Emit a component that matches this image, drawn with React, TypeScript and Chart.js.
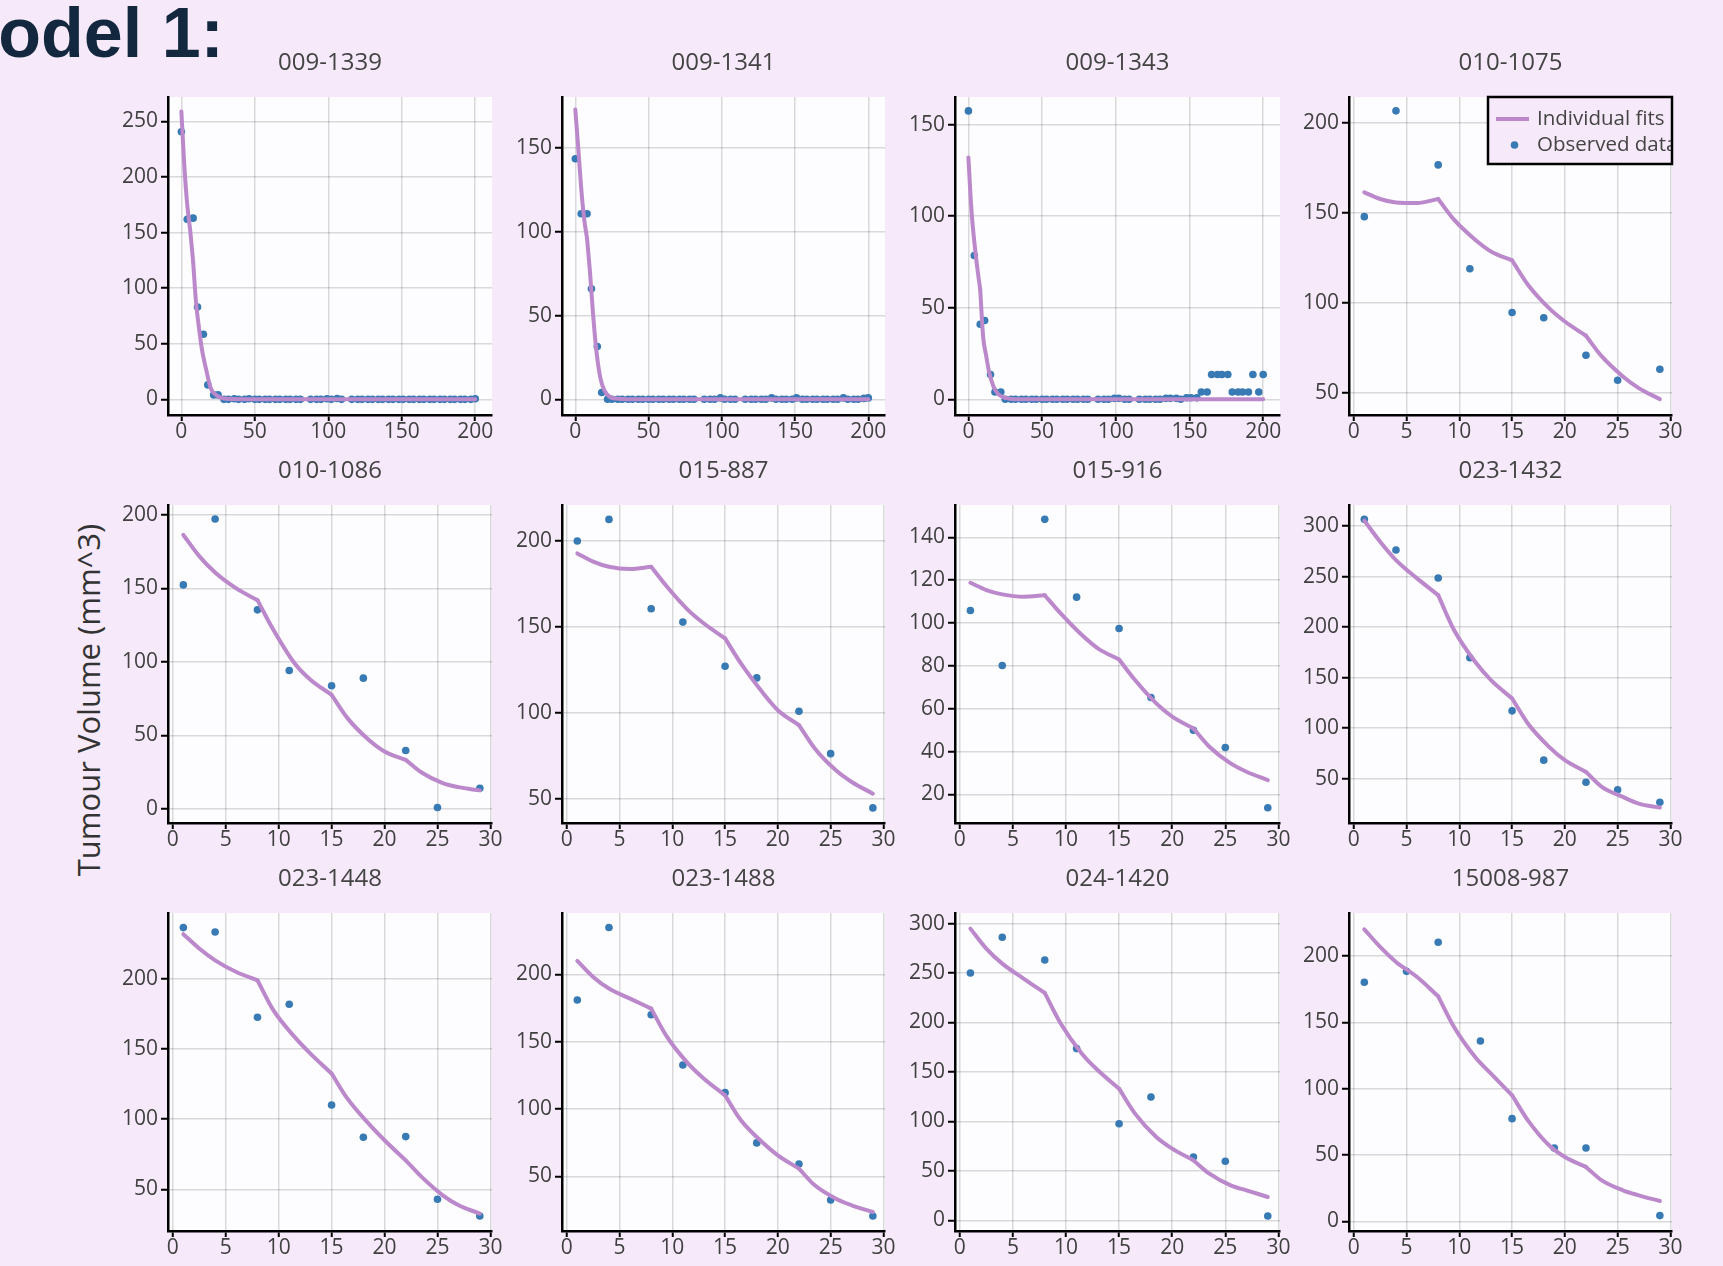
import React, { useEffect, useRef } from "react";
import { Chart, registerables } from "chart.js";

Chart.register(...registerables);

// ---------- colours & fonts ----------
const PAGE_BG = "rgb(246,234,250)";
const PLOT_BG = "#fdfcfe";
const FIT_COLOR = "#bb89cb";
const OBS_COLOR = "rgb(56,122,180)";
const GRID_COLOR = "rgba(0,0,0,0.14)";
const FONT = '"Open Sans", sans-serif';

// ---------- data ----------
const PANEL_TITLES = [
  "009-1339", "009-1341", "009-1343", "010-1075",
  "010-1086", "015-887", "015-916", "023-1432",
  "023-1448", "023-1488", "024-1420", "15008-987",
];

const LONG_DAYS = [0, 4, 8, 11, 15, 18, 22, 25, 29, 32, 36, 39, 43, 46, 50, 53, 57, 60, 64, 67, 71, 74, 78, 81, 88, 92, 95, 99, 102, 106, 109, 116, 120, 123, 127, 130, 134, 137, 141, 144, 148, 151, 155, 158, 162, 165, 169, 172, 176, 179, 183, 186, 190, 193, 197, 200];
const LONG_FIT_DAYS = [0, 2, 4, 6, 8, 10, 12, 14, 17, 20, 24, 28, 35, 50, 100, 150, 200];
const SHORT_DAYS = [1, 4, 8, 11, 15, 18, 22, 25, 29];
const SHORT_DAYS_15008 = [1, 5, 8, 12, 15, 19, 22, 29];
const SHORT_FIT_DAYS = [1, 2.5, 4, 6, 8, 9.5, 11.5, 13, 15, 16.5, 18.5, 20, 22, 23.5, 25.5, 27, 29];
const DOSE_DAYS_LONG = [8];
const DOSE_DAYS_SHORT = [8, 15, 22];

const OBS_009_1339 = [240.7, 162, 163, 83, 58.5, 13, 4, 4, 0, 0, 0.5, 0, 0, 0.5, 0, 0, 0, 0, 0, 0, 0, 0, 0, 0, 0, 0, 0, 0.5, 0, 0.8, 0, 0, 0, 0, 0, 0, 0, 0, 0, 0, 0, 0, 0, 0, 0, 0, 0, 0, 0, 0, 0, 0, 0, 0, 0, 0.5];
const OBS_009_1341 = [143.6, 110.8, 110.8, 66, 31.5, 4, 0, 0, 0, 0, 0, 0, 0, 0, 0, 0, 0, 0, 0, 0, 0, 0, 0, 0, 0, 0, 0, 0.8, 0, 0, 0, 0, 0, 0, 0, 0, 0.8, 0, 0, 0, 0, 0.8, 0, 0, 0, 0, 0, 0, 0, 0, 0.8, 0, 0, 0, 0.5, 0.8];
const OBS_009_1343 = [157.5, 78.5, 41, 43, 13.5, 4, 4, 0, 0, 0, 0, 0, 0, 0, 0, 0, 0, 0, 0, 0, 0, 0, 0, 0, 0, 0, 0, 0.5, 0.5, 0, 0, 0, 0, 0, 0, 0, 0.5, 0.5, 0.5, 0, 0.8, 0.8, 0.8, 4, 4, 13.5, 13.5, 13.5, 13.5, 4, 4, 4, 4, 13.5, 4, 13.5];
const OBS_010_1075 = [148, 206.7, 176.7, 119.1, 94.8, 91.9, 71.1, 57.2, 63.3];
const OBS_010_1086 = [152.4, 197.3, 135.4, 94.1, 83.7, 88.9, 39.7, 0.9, 14];
const OBS_015_887 = [200, 212.6, 160.6, 152.8, 127.1, 120.3, 100.9, 76.2, 44.6];
const OBS_015_916 = [105.9, 80.2, 148.4, 112.1, 97.5, 65.3, 50, 41.9, 13.8];
const OBS_023_1432 = [306.6, 276.2, 248.5, 169.6, 117, 68.2, 46.4, 38.8, 26.6];
const OBS_023_1448 = [236.3, 233.2, 172.5, 181.7, 110, 87, 87.5, 42.9, 31];
const OBS_023_1488 = [180.9, 234.7, 170, 132.7, 112.1, 74.8, 59.2, 32.4, 20.5];
const OBS_024_1420 = [250.1, 286.2, 263.2, 173.6, 97.7, 124.7, 64, 59.7, 4.4];
const OBS_15008_987 = [180.2, 188.4, 210.3, 135.9, 77.4, 55.3, 55.3, 4.3];

const FIT_009_1339 = [259, 210, 175, 152, 124, 87, 64, 45, 26, 10, 3.5, 1, 0.2, 0, 0, 0, 0];
const FIT_009_1341 = [173, 150, 126, 108, 96, 76, 52, 32, 13, 5, 1.2, 0.4, 0, 0, 0, 0, 0];
const FIT_009_1343 = [132, 104, 86, 72, 60, 34, 24, 15, 7, 3, 1, 0.3, 0, 0, 0, 0, 0];
const FIT_010_1075 = [161.5, 157.8, 155.9, 155.6, 157.8, 146.3, 135.2, 128.7, 123.7, 110.2, 97.2, 89.8, 81.9, 70.4, 59.3, 52.8, 46.7];
const FIT_010_1086 = [186.4, 172, 160.8, 150, 142, 121.8, 99, 87.8, 77.6, 61.7, 47, 39, 33.3, 24.7, 17.5, 14.7, 12.5];
const FIT_015_887 = [192.8, 188, 185, 183.7, 185, 173.4, 159.8, 152, 143.3, 128.7, 112.2, 101.5, 92.8, 79.2, 66.5, 59.7, 52.9];
const FIT_015_916 = [118.8, 115.4, 113.4, 112.3, 113, 104.5, 94.4, 88.2, 83, 73.4, 62.5, 56.3, 50.8, 42.3, 34.5, 30.6, 26.7];
const FIT_023_1432 = [305.3, 284.5, 266.3, 248.2, 231.6, 197, 165.6, 147.4, 129.3, 104.5, 81.4, 68.2, 56.6, 41.8, 31.8, 25.2, 21.3];
const FIT_023_1448 = [231.6, 221.4, 213, 204.7, 198.8, 177.5, 158.5, 146.6, 132.4, 114.5, 96.7, 84.9, 70.6, 58.8, 45.7, 38.6, 32.7];
const FIT_023_1488 = [209.9, 198, 189.4, 181.9, 174.5, 153.5, 133.7, 122.5, 110.1, 91.6, 75.5, 65.6, 55.7, 43.3, 33.4, 28.5, 23.5];
const FIT_024_1420 = [294.9, 274.7, 259.5, 244.4, 229.9, 198.9, 168.5, 151.7, 133.1, 107.9, 84.3, 72.5, 60.7, 47.2, 35.4, 30.3, 23.6];
const FIT_15008_987 = [220.1, 206.8, 195.5, 184.2, 169.6, 146.5, 123.9, 111.3, 95, 76.1, 57.3, 48.5, 41, 30.9, 23.4, 19.6, 15.3];

// axis ranges and tick steps
const X_RANGE_LONG = [-9.1, 211.4];
const X_RANGE_SHORT = [-0.45, 30.15];
const X_STEP_LONG = 50;
const X_STEP_SHORT = 5;
const Y_MIN = [-14.1, -9.4, -8.6, 37.9, -9.7, 35.8, 6.7, 6, 20.3, 9.4, -10.8, -7.3];
const Y_MAX = [272, 180.5, 165.1, 214.4, 206.8, 221, 155.1, 320.8, 246.7, 245.5, 310.7, 232.4];
const Y_STEP = [50, 50, 50, 50, 50, 50, 20, 50, 50, 50, 50, 50];

const LEGEND_LABELS = ["Individual fits", "Observed data"];
const Y_TITLE = "Tumour Volume (mm^3)";
const PAGE_TITLE = "Model 1:";

const OBS_DAYS = [LONG_DAYS, LONG_DAYS, LONG_DAYS, SHORT_DAYS, SHORT_DAYS, SHORT_DAYS, SHORT_DAYS, SHORT_DAYS, SHORT_DAYS, SHORT_DAYS, SHORT_DAYS, SHORT_DAYS_15008];
const OBS_VALUES = [OBS_009_1339, OBS_009_1341, OBS_009_1343, OBS_010_1075, OBS_010_1086, OBS_015_887, OBS_015_916, OBS_023_1432, OBS_023_1448, OBS_023_1488, OBS_024_1420, OBS_15008_987];
const FIT_DAYS = [LONG_FIT_DAYS, LONG_FIT_DAYS, LONG_FIT_DAYS, SHORT_FIT_DAYS, SHORT_FIT_DAYS, SHORT_FIT_DAYS, SHORT_FIT_DAYS, SHORT_FIT_DAYS, SHORT_FIT_DAYS, SHORT_FIT_DAYS, SHORT_FIT_DAYS, SHORT_FIT_DAYS];
const FIT_VALUES = [FIT_009_1339, FIT_009_1341, FIT_009_1343, FIT_010_1075, FIT_010_1086, FIT_015_887, FIT_015_916, FIT_023_1432, FIT_023_1448, FIT_023_1488, FIT_024_1420, FIT_15008_987];

// ---------- layout (page pixels) ----------
const COL_AXIS_X = [168, 562, 955, 1349];
const COL_RIGHT_X = [492, 885, 1280, 1672];
const ROW_TOP = [97, 505, 913];
const ROW_BOTTOM = [415, 823, 1231];
const LY = 70;
const TOP_PAD = 60;
const RIGHT_PAD = 24;
const HX = 44;

function axis(min: number, max: number, step: number, isX: boolean) {
  return {
    type: "linear" as const,
    position: isX ? "bottom" : "left",
    min,
    max,
    ticks: {
      stepSize: step,
      includeBounds: false,
      autoSkip: false,
      maxRotation: 0,
      color: "#404040",
      font: { family: FONT, size: 21 },
      padding: isX ? -2 : 3,
    },
    grid: {
      color: GRID_COLOR,
      lineWidth: 1.5,
      drawTicks: true,
      tickLength: isX ? 6 : 7,
      tickColor: "#000",
      tickWidth: 2,
    },
    border: { display: true, color: "#000", width: 2.5 },
    afterFit: (s: any) => {
      if (isX) s.height = HX;
      else s.width = LY;
    },
  };
}

// split a fitted curve into dosing intervals so the kinks stay sharp
function splitAtDoses(days: number[], vals: number[], doses: number[]) {
  const pieces: { x: number; y: number }[][] = [];
  let cur: { x: number; y: number }[] = [];
  days.forEach((d, i) => {
    cur.push({ x: d, y: vals[i] });
    if (doses.includes(d) && cur.length > 1) {
      pieces.push(cur);
      cur = [{ x: d, y: vals[i] }];
    }
  });
  if (cur.length > 1) pieces.push(cur);
  return pieces;
}

function Panel({ index }: { index: number }) {
  const ref = useRef<HTMLCanvasElement | null>(null);
  const row = Math.floor(index / 4);
  const col = index % 4;
  const plotW = COL_RIGHT_X[col] - COL_AXIS_X[col];
  const plotH = ROW_BOTTOM[row] - ROW_TOP[row];
  const width = LY + plotW + RIGHT_PAD;
  const height = TOP_PAD + plotH + HX;

  useEffect(() => {
    const long = index < 3;
    const title = PANEL_TITLES[index];
    const xr = long ? X_RANGE_LONG : X_RANGE_SHORT;
    const xs = long ? X_STEP_LONG : X_STEP_SHORT;

    const bgPlugin = {
      id: "bg" + index,
      beforeDraw(chart: any) {
        const { ctx, chartArea: a } = chart;
        ctx.save();
        ctx.fillStyle = PLOT_BG;
        ctx.fillRect(a.left, a.top, a.right - a.left, a.bottom - a.top);
        ctx.restore();
      },
      afterDraw(chart: any) {
        const { ctx, chartArea: a } = chart;
        ctx.save();
        ctx.font = `24px ${FONT}`;
        ctx.fillStyle = "#444";
        ctx.textAlign = "center";
        ctx.textBaseline = "middle";
        ctx.fillText(title, (a.left + a.right) / 2, a.top - 34);
        ctx.restore();
      },
    };

    const legendPlugin = {
      id: "lg" + index,
      afterDatasetsDraw(chart: any) {
        if (index !== 3) return;
        const { ctx, chartArea: a } = chart;
        const w = 184;
        const h = 67;
        const bx = a.right - w;
        const by = a.top;
        ctx.save();
        ctx.fillStyle = PAGE_BG;
        ctx.fillRect(bx, by, w, h);
        ctx.beginPath();
        ctx.rect(bx, by, w, h);
        ctx.clip();
        ctx.strokeStyle = FIT_COLOR;
        ctx.lineWidth = 4;
        ctx.beginPath();
        ctx.moveTo(bx + 8, by + 22);
        ctx.lineTo(bx + 41, by + 22);
        ctx.stroke();
        ctx.fillStyle = OBS_COLOR;
        ctx.beginPath();
        ctx.arc(bx + 26.5, by + 48, 3.8, 0, Math.PI * 2);
        ctx.fill();
        ctx.font = `20.5px ${FONT}`;
        ctx.fillStyle = "#444";
        ctx.textAlign = "left";
        ctx.textBaseline = "middle";
        ctx.fillText(LEGEND_LABELS[0], bx + 49, by + 22);
        ctx.fillText(LEGEND_LABELS[1], bx + 49, by + 48);
        ctx.restore();
        ctx.save();
        ctx.strokeStyle = "#000";
        ctx.lineWidth = 2.5;
        ctx.strokeRect(bx, by, w, h);
        ctx.restore();
      },
    };

    const pieces = splitAtDoses(FIT_DAYS[index], FIT_VALUES[index], long ? DOSE_DAYS_LONG : DOSE_DAYS_SHORT);
    const obsData = OBS_DAYS[index].map((x, i) => ({ x, y: OBS_VALUES[index][i] }));

    const fitSets = pieces.map((data, k) => ({
      type: "line",
      label: k === 0 ? LEGEND_LABELS[0] : "",
      data,
      borderColor: FIT_COLOR,
      borderWidth: 4,
      pointRadius: 0,
      showLine: true,
      fill: false,
      cubicInterpolationMode: "monotone",
      borderJoinStyle: "round",
      borderCapStyle: "round",
    }));

    const chart = new Chart(ref.current as HTMLCanvasElement, {
      type: "scatter",
      data: {
        datasets: [
          ...(fitSets as any[]),
          {
            type: "scatter",
            label: LEGEND_LABELS[1],
            data: obsData,
            backgroundColor: OBS_COLOR,
            borderWidth: 0,
            pointRadius: 3.8,
          } as any,
        ],
      },
      options: {
        responsive: false,
        animation: false,
        events: [],
        layout: { padding: { left: 0, top: TOP_PAD, right: RIGHT_PAD, bottom: 0 } },
        plugins: {
          legend: { display: false },
          tooltip: { enabled: false },
          title: { display: false },
        },
        scales: {
          x: axis(xr[0], xr[1], xs, true) as any,
          y: axis(Y_MIN[index], Y_MAX[index], Y_STEP[index], false) as any,
        },
      },
      plugins: [bgPlugin, legendPlugin],
    });
    return () => chart.destroy();
  }, [index]);

  return (
    <canvas
      ref={ref}
      width={width}
      height={height}
      style={{
        position: "absolute",
        left: COL_AXIS_X[col] - LY,
        top: ROW_TOP[row] - TOP_PAD,
        width,
        height,
      }}
    />
  );
}

export default function App() {
  return (
    <div
      style={{
        position: "fixed",
        left: 0,
        top: 0,
        width: 1723,
        height: 1266,
        overflow: "hidden",
        background: PAGE_BG,
      }}
    >
      <div
        style={{
          position: "absolute",
          left: -60,
          top: -2,
          font: 'bold 70px "Liberation Sans", Arial, sans-serif',
          lineHeight: "70px",
          color: "#13283f",
          whiteSpace: "nowrap",
        }}
      >
        {PAGE_TITLE}
      </div>
      <div
        style={{
          position: "absolute",
          left: 88,
          top: 700,
          transform: "translate(-50%, -50%) rotate(-90deg)",
          font: `31px ${FONT}`,
          color: "#333",
          whiteSpace: "nowrap",
        }}
      >
        {Y_TITLE}
      </div>
      {PANEL_TITLES.map((_, i) => (
        <Panel key={i} index={i} />
      ))}
    </div>
  );
}
